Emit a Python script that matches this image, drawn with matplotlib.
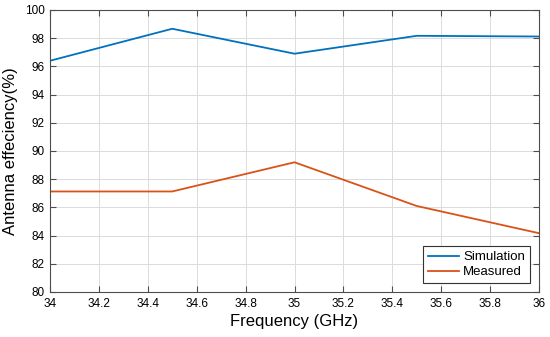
import numpy as np
import matplotlib
matplotlib.use('Agg')
import matplotlib.pyplot as plt

plt.rcParams['font.family'] = ['Liberation Sans', 'DejaVu Sans']

# Data
freq = [34.0, 34.5, 35.0, 35.5, 36.0]
simulation = [96.4, 98.67, 96.9, 98.17, 98.12]
measured = [87.13, 87.13, 89.2, 86.1, 84.17]

xticks = np.round(np.arange(34, 36.01, 0.2), 1)
xtick_labels = ['34', '34.2', '34.4', '34.6', '34.8', '35', '35.2', '35.4', '35.6', '35.8', '36']
yticks = list(range(80, 101, 2))

fig = plt.figure(figsize=(5.5, 3.37), dpi=100)
ax = fig.add_axes([50 / 550, 1 - 292 / 337, 489 / 550, 282 / 337])

ax.plot(freq, simulation, color=(0, 0.447, 0.741), lw=1.3, label='Simulation')
ax.plot(freq, measured, color=(0.85, 0.325, 0.098), lw=1.3, label='Measured')

ax.set_xlim(34, 36)
ax.set_ylim(80, 100)
ax.set_xticks(xticks)
ax.set_xticklabels(xtick_labels)
ax.set_yticks(yticks)
ax.tick_params(direction='in', top=True, right=True, labelsize=8.5, length=4,
               color='0.3', pad=4)
ax.grid(True, color='0.86', lw=0.7)
ax.set_axisbelow(True)
for s in ax.spines.values():
    s.set_color('0.3')
    s.set_linewidth(0.8)

ax.set_xlabel('Frequency (GHz)', fontsize=12, labelpad=3)
ax.set_ylabel('Antenna effeciency(%)', fontsize=12, labelpad=5)

leg = ax.legend(loc='lower right', fontsize=9.5, fancybox=False, framealpha=1,
                edgecolor='0.2', handlelength=2.4, borderpad=0.35, labelspacing=0.2,
                handletextpad=0.3, borderaxespad=0.7)
leg.get_frame().set_linewidth(0.8)

fig.savefig('out.png', dpi=100)
